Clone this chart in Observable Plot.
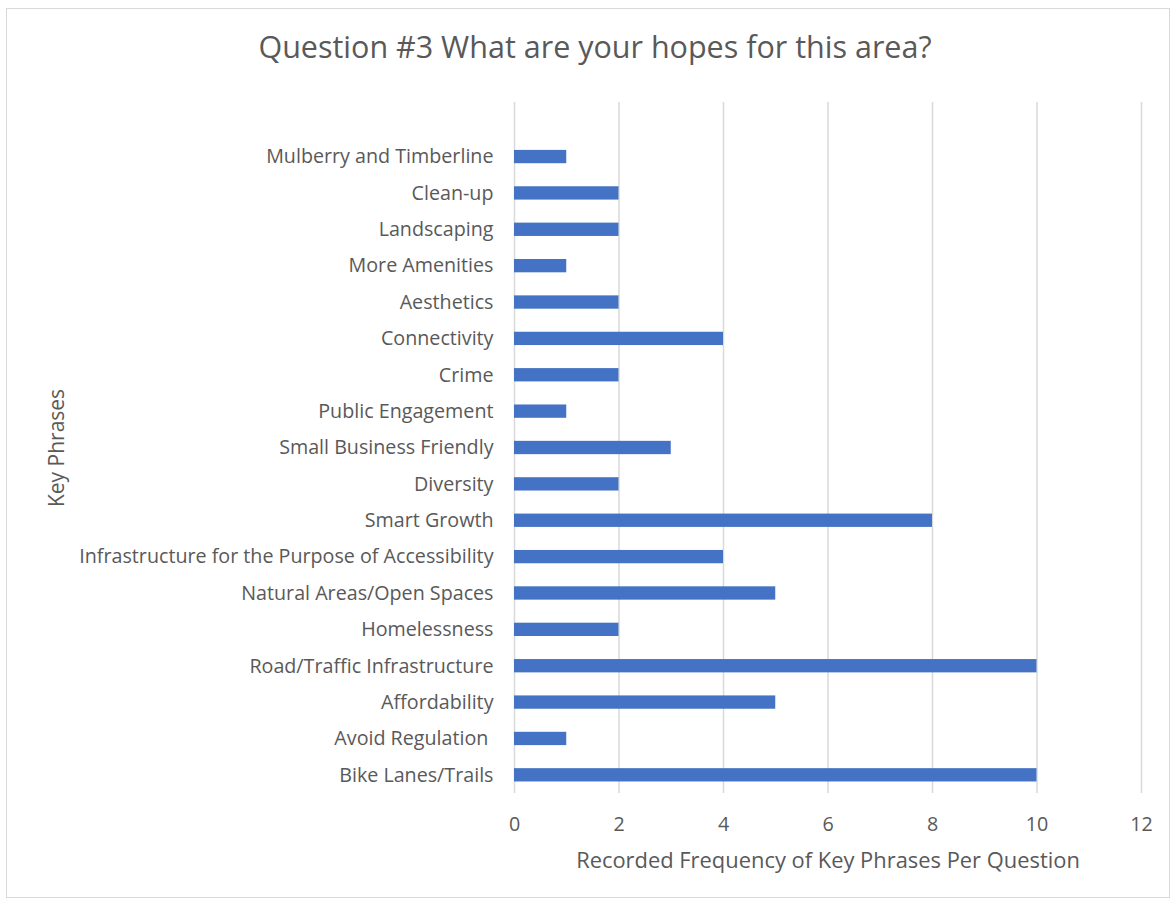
<!DOCTYPE html>
<html>
<head>
<meta charset="utf-8">
<script src="https://cdn.jsdelivr.net/npm/d3@7"></script>
<script src="https://cdn.jsdelivr.net/npm/@observablehq/plot@0.6"></script>
<style>
  html, body { margin: 0; padding: 0; background: #fff; }
  #wrap { position: relative; width: 1172px; height: 901px; overflow: hidden; font-family: "Open Sans", "Segoe UI", sans-serif; }
  #frame { position: absolute; left: 6px; top: 8px; width: 1164px; height: 890px; border: 1px solid #d9d9d9; box-sizing: border-box; }
  #title { position: absolute; left: 0; top: 31px; width: 1190px; text-align: center; font-size: 30.5px; line-height: 1; color: #595959; white-space: nowrap; }
  #chart { position: absolute; left: 0; top: 0; }
</style>
</head>
<body>
<div id="wrap">
  <div id="frame"></div>
  <div id="chart"></div>
  <div id="title">Question #3 What are your hopes for this area?</div>
</div>
<script>
const categories = [
  "Mulberry and Timberline",
  "Clean-up",
  "Landscaping",
  "More Amenities",
  "Aesthetics",
  "Connectivity",
  "Crime",
  "Public Engagement",
  "Small Business Friendly",
  "Diversity",
  "Smart Growth",
  "Infrastructure for the Purpose of Accessibility",
  "Natural Areas/Open Spaces",
  "Homelessness",
  "Road/Traffic Infrastructure",
  "Affordability",
  "Avoid Regulation ",
  "Bike Lanes/Trails"
];
const values = [1, 2, 2, 1, 2, 4, 2, 1, 3, 2, 8, 4, 5, 2, 10, 5, 1, 10];
const xTicks = [0, 2, 4, 6, 8, 10, 12];
const xTitle = "Recorded Frequency of Key Phrases Per Question";
const yTitle = "Key Phrases";

const data = categories.map((c, i) => ({phrase: c, count: values[i]}));
// Excel leaves an empty category slot at the top of the axis
const yDomain = [" ", ...categories];

const chart = Plot.plot({
  width: 1172,
  height: 901,
  marginLeft: 514,
  marginRight: 31,
  marginTop: 102,
  marginBottom: 108,
  style: { fontFamily: '"Open Sans", "Segoe UI", sans-serif', color: "#595959", background: "transparent" },
  x: { domain: [0, 12], ticks: xTicks },
  y: { domain: yDomain, paddingInner: 0.634, paddingOuter: 0.317, round: false },
  marks: [
    Plot.gridX(xTicks, { stroke: "#d9d9d9", strokeOpacity: 1, strokeWidth: 1.5 }),
    Plot.barX(data, { x: "count", y: "phrase", fill: "#4472C4" }),
    Plot.axisX({ ticks: xTicks, tickSize: 0, tickPadding: 23, fontSize: 19.7, label: null }),
    Plot.axisY({ tickSize: 0, tickPadding: 21, fontSize: 19.7, label: null }),
    Plot.text([xTitle], { frameAnchor: "bottom", lineAnchor: "middle", textAnchor: "middle", dy: 67, fontSize: 21.9, fill: "#595959" }),
    Plot.text([yTitle], { frameAnchor: "left", lineAnchor: "middle", textAnchor: "middle", dx: -457, rotate: -90, fontSize: 21, fill: "#595959" })
  ]
});
document.getElementById("chart").appendChild(chart);
</script>
</body>
</html>
